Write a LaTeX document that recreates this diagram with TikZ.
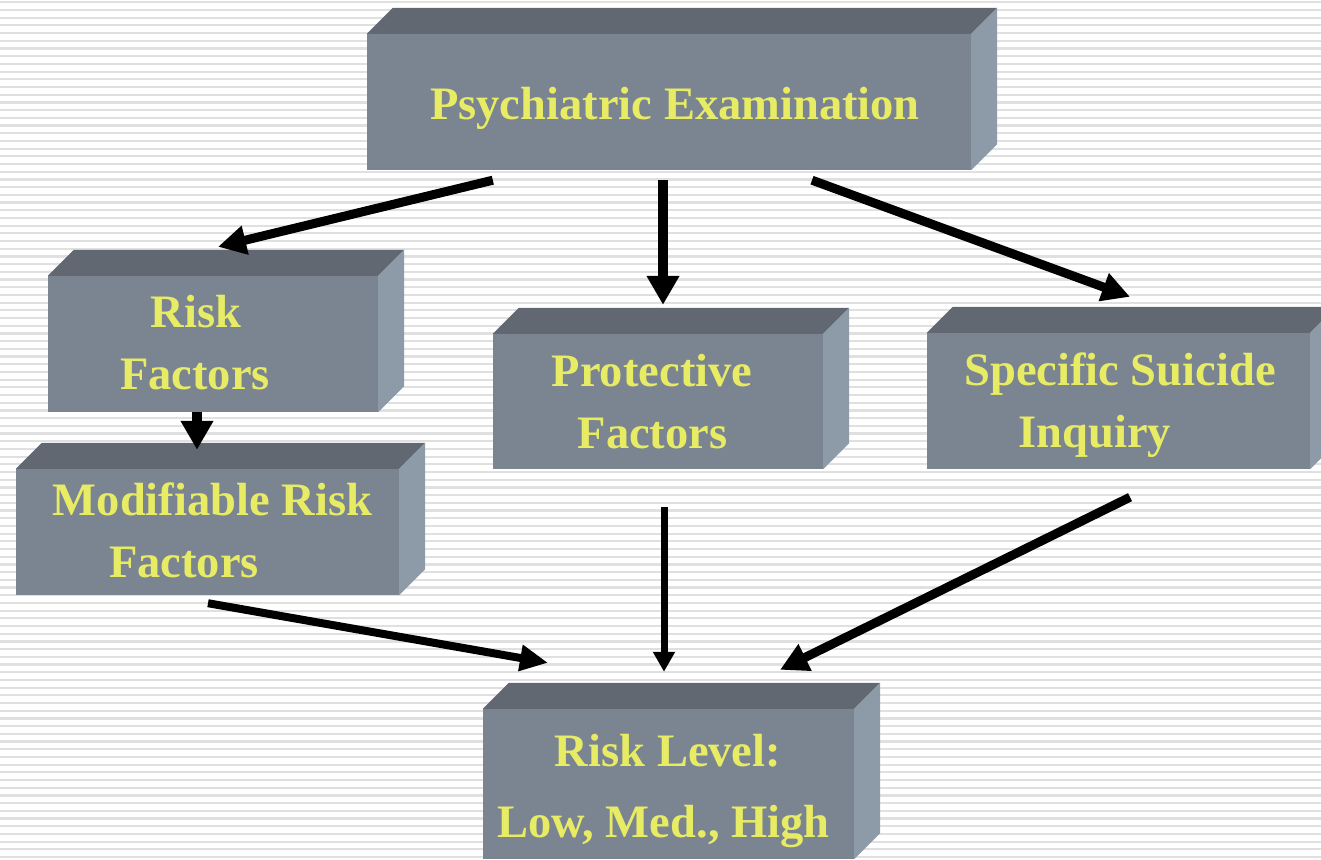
\documentclass[tikz,border=0pt]{standalone}
\usepackage{fontspec}
\setmainfont{Liberation Serif}
\usetikzlibrary{arrows.meta,calc}
\definecolor{frontc}{HTML}{7B8591}
\definecolor{topc}{HTML}{626872}
\definecolor{sidec}{HTML}{8D9AA7}
\definecolor{textc}{HTML}{E8EC64}
\definecolor{stripec}{HTML}{E0E0E0}
\newcommand\cubefaces[1]{%
  \fill[topc] (#1.north west) -- ++(26,-26) -- ([shift={(26,-26)}]#1.north east) -- (#1.north east) -- cycle;
  \fill[sidec] (#1.north east) -- ++(26,-26) -- ([shift={(26,-26)}]#1.south east) -- (#1.south east) -- cycle;}
\tikzset{
  front/.style={fill=frontc, draw=none, inner sep=0pt, rectangle},
  lbl/.style={text=textc, font=\fontsize{46.5}{56}\selectfont\bfseries, anchor=base, inner sep=0pt},
  bigarrow/.style={line width=9pt, -{Triangle[length=28pt,width=28pt]}},
  fatarrow/.style={line width=10.5pt, -{Triangle[length=29pt,width=31pt]}},
  slimarrow/.style={line width=8pt, -{Triangle[length=28pt,width=25pt]}},
  thinarrow/.style={line width=7pt, -{Triangle[length=20pt,width=21pt]}}
}
\begin{document}
\begin{tikzpicture}[x=1pt,y=-1pt]
\useasboundingbox (0,0) rectangle (1321,859);
\clip (0,0) rectangle (1321,859);
% background stripes
\fill[white] (0,0) rectangle (1321,859);
\foreach \k in {0,...,112} {
  \fill[stripec] (0,{1.2+7.7*\k}) rectangle (1321,{3.4+7.7*\k});
}
% boxes
\node[front, minimum width=604pt, minimum height=136pt] (pe) at (669,102) {};
\cubefaces{pe}
\node[front, minimum width=330pt, minimum height=136pt] (rf) at (213,344) {};
\cubefaces{rf}
\node[front, minimum width=383pt, minimum height=126pt] (mrf) at (207.5,532) {};
\cubefaces{mrf}
\node[front, minimum width=330pt, minimum height=135pt] (pf) at (658,401.5) {};
\cubefaces{pf}
\node[front, minimum width=383pt, minimum height=136pt] (ssi) at (1118.5,401) {};
\cubefaces{ssi}
\node[front, minimum width=371pt, minimum height=150pt] (rl) at (668.5,784) {};
\cubefaces{rl}
% texts
\node[lbl] (pe-t) at (675,119) {Psychiatric Examination};
\node[lbl] (rf-t1) at (196,327) {Risk};
\node[lbl] (rf-t2) at (195,389) {Factors};
\node[lbl] (mrf-t1) at (212.5,515) {Modifiable Risk};
\node[lbl] (mrf-t2) at (184,577) {Factors};
\node[lbl] (pf-t1) at (652,386) {Protective};
\node[lbl] (pf-t2) at (652.5,448) {Factors};
\node[lbl] (ssi-t1) at (1120,385) {Specific Suicide};
\node[lbl] (ssi-t2) at (1095,447) {Inquiry};
\node[lbl] (rl-t1) at (668,766) {Risk Level:};
\node[lbl] (rl-t2) at (663.5,837) {Low, Med., High};
% arrows
\draw[bigarrow] ($(pe.south west)+(126,10)$) -- ($(rf.north)+(5,-29)$);
\draw[fatarrow] ($(pe.south)+(-6,10)$) -- ($(pf.north)+(5,-29)$);
\draw[bigarrow] ($(pe.south)+(143,10)$) -- ($(ssi.north)+(11.5,-36)$);
\draw[fatarrow] ($(rf.south)+(-16,0)$) -- ($(mrf.north)+(-10.5,-19)$);
\draw[slimarrow] ($(mrf.south)+(0.5,8)$) -- ($(rl.north)+(-120.5,-46)$);
\draw[thinarrow] ($(pf.south)+(6,38)$) -- ($(rl.north)+(-4.5,-37)$);
\draw[bigarrow] ($(ssi.south)+(11.5,28)$) -- ($(rl.north)+(111.5,-39)$);
\end{tikzpicture}
\end{document}
